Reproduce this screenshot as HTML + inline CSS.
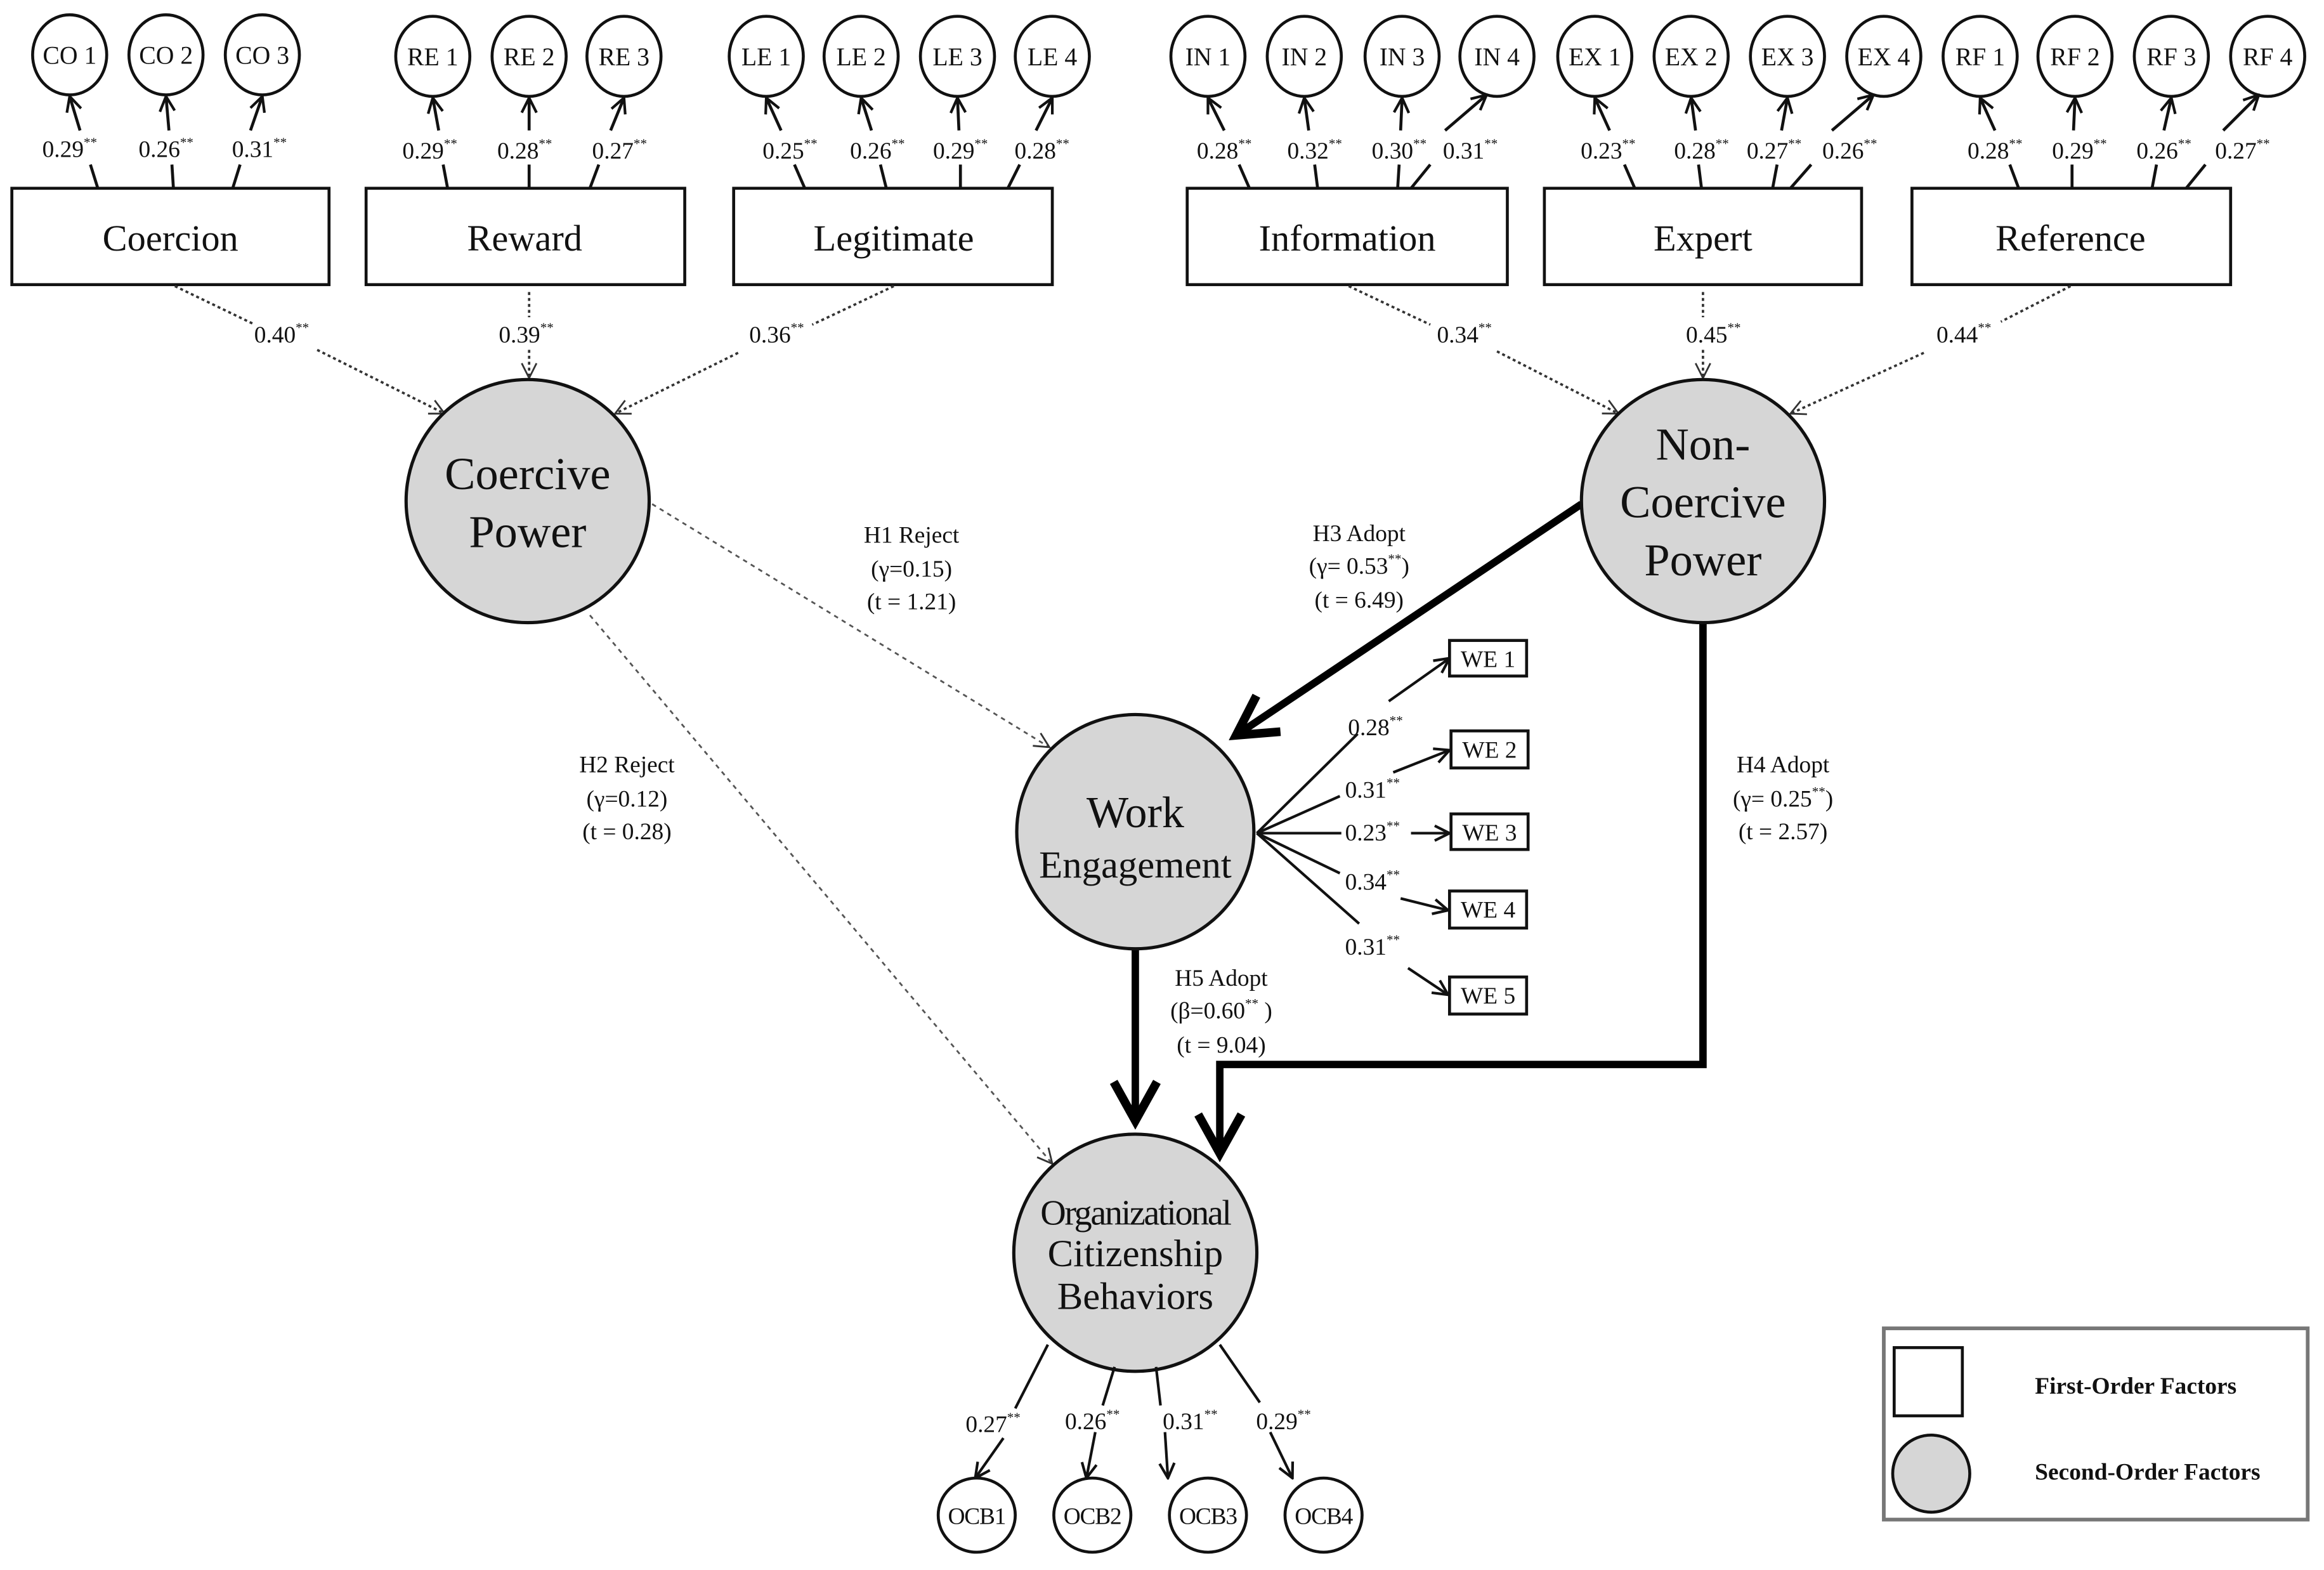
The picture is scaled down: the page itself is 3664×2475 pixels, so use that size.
<!DOCTYPE html>
<html><head><meta charset="utf-8"><style>
html,body{margin:0;padding:0;background:#fff;}
svg{display:block;}
text{font-family:"Liberation Serif",serif;fill:#111;}
</style></head><body>
<svg width="3664" height="2475" viewBox="0 0 1568 1059" preserveAspectRatio="none" xmlns="http://www.w3.org/2000/svg">
<defs>
<marker id="a" viewBox="0 0 12 12" refX="11" refY="6" markerWidth="12" markerHeight="12" markerUnits="userSpaceOnUse" orient="auto"><path d="M1,1 L11,6 L1,11" fill="none" stroke="#111" stroke-width="1.8"/></marker>
<marker id="ad" viewBox="0 0 12 12" refX="11" refY="6" markerWidth="12" markerHeight="12" markerUnits="userSpaceOnUse" orient="auto"><path d="M1,1 L11,6 L1,11" fill="none" stroke="#333" stroke-width="1.2"/></marker>
<marker id="ab" viewBox="0 0 12 12" refX="10" refY="6" markerWidth="7" markerHeight="7" orient="auto"><path d="M1,1 L10,6 L1,11" fill="none" stroke="#000" stroke-width="2"/></marker>
</defs>

<!-- Indicator circles row -->
<g fill="#fff" stroke="#111" stroke-width="2">
<ellipse cx="47" cy="37" rx="25" ry="27"/><ellipse cx="112" cy="37" rx="25" ry="27"/><ellipse cx="177" cy="37" rx="25" ry="27"/>
<ellipse cx="292" cy="38" rx="25" ry="27"/><ellipse cx="357" cy="38" rx="25" ry="27"/><ellipse cx="421" cy="38" rx="25" ry="27"/>
<ellipse cx="517" cy="38" rx="25" ry="27"/><ellipse cx="581" cy="38" rx="25" ry="27"/><ellipse cx="646" cy="38" rx="25" ry="27"/><ellipse cx="710" cy="38" rx="25" ry="27"/>
<ellipse cx="815" cy="38" rx="25" ry="27"/><ellipse cx="880" cy="38" rx="25" ry="27"/><ellipse cx="946" cy="38" rx="25" ry="27"/><ellipse cx="1010" cy="38" rx="25" ry="27"/>
<ellipse cx="1076" cy="38" rx="25" ry="27"/><ellipse cx="1141" cy="38" rx="25" ry="27"/><ellipse cx="1206" cy="38" rx="25" ry="27"/><ellipse cx="1271" cy="38" rx="25" ry="27"/>
<ellipse cx="1336" cy="38" rx="25" ry="27"/><ellipse cx="1400" cy="38" rx="25" ry="27"/><ellipse cx="1465" cy="38" rx="25" ry="27"/><ellipse cx="1530" cy="38" rx="25" ry="27"/>
</g>
<g font-size="17" text-anchor="middle">
<text x="47" y="43">CO 1</text><text x="112" y="43">CO 2</text><text x="177" y="43">CO 3</text>
<text x="292" y="44">RE 1</text><text x="357" y="44">RE 2</text><text x="421" y="44">RE 3</text>
<text x="517" y="44">LE 1</text><text x="581" y="44">LE 2</text><text x="646" y="44">LE 3</text><text x="710" y="44">LE 4</text>
<text x="815" y="44">IN 1</text><text x="880" y="44">IN 2</text><text x="946" y="44">IN 3</text><text x="1010" y="44">IN 4</text>
<text x="1076" y="44">EX 1</text><text x="1141" y="44">EX 2</text><text x="1206" y="44">EX 3</text><text x="1271" y="44">EX 4</text>
<text x="1336" y="44">RF 1</text><text x="1400" y="44">RF 2</text><text x="1465" y="44">RF 3</text><text x="1530" y="44">RF 4</text>
</g>

<!-- indicator connectors -->
<g stroke="#111" stroke-width="2" fill="none">
<line x1="66" y1="127" x2="61" y2="111"/><line x1="54" y1="88" x2="47" y2="65" marker-end="url(#a)"/>
<line x1="117" y1="127" x2="116" y2="111"/><line x1="114" y1="88" x2="112" y2="65" marker-end="url(#a)"/>
<line x1="157" y1="127" x2="162" y2="111"/><line x1="169" y1="88" x2="177" y2="65" marker-end="url(#a)"/>
<line x1="302" y1="127" x2="299" y2="111"/><line x1="296" y1="88" x2="292" y2="66" marker-end="url(#a)"/>
<line x1="357" y1="127" x2="357" y2="111"/><line x1="357" y1="88" x2="357" y2="66" marker-end="url(#a)"/>
<line x1="398" y1="127" x2="404" y2="111"/><line x1="412" y1="88" x2="421" y2="66" marker-end="url(#a)"/>
<line x1="543" y1="127" x2="536" y2="111"/><line x1="527" y1="88" x2="517" y2="66" marker-end="url(#a)"/>
<line x1="598" y1="127" x2="594" y2="111"/><line x1="588" y1="88" x2="581" y2="66" marker-end="url(#a)"/>
<line x1="648" y1="127" x2="648" y2="111"/><line x1="647" y1="88" x2="646" y2="66" marker-end="url(#a)"/>
<line x1="680" y1="127" x2="688" y2="111"/><line x1="699" y1="88" x2="710" y2="66" marker-end="url(#a)"/>
<line x1="843" y1="127" x2="836" y2="111"/><line x1="826" y1="88" x2="815" y2="66" marker-end="url(#a)"/>
<line x1="889" y1="127" x2="887" y2="111"/><line x1="883" y1="88" x2="880" y2="66" marker-end="url(#a)"/>
<line x1="943" y1="127" x2="944" y2="111"/><line x1="945" y1="88" x2="946" y2="66" marker-end="url(#a)"/>
<line x1="952" y1="127" x2="965" y2="111"/><line x1="975" y1="88" x2="1003" y2="64" marker-end="url(#a)"/>
<line x1="1103" y1="127" x2="1096" y2="111"/><line x1="1086" y1="88" x2="1076" y2="66" marker-end="url(#a)"/>
<line x1="1148" y1="127" x2="1146" y2="111"/><line x1="1144" y1="88" x2="1141" y2="66" marker-end="url(#a)"/>
<line x1="1196" y1="127" x2="1199" y2="111"/><line x1="1202" y1="88" x2="1206" y2="66" marker-end="url(#a)"/>
<line x1="1208" y1="127" x2="1222" y2="111"/><line x1="1236" y1="88" x2="1264" y2="64" marker-end="url(#a)"/>
<line x1="1362" y1="127" x2="1356" y2="111"/><line x1="1346" y1="88" x2="1336" y2="66" marker-end="url(#a)"/>
<line x1="1398" y1="127" x2="1398" y2="111"/><line x1="1399" y1="88" x2="1400" y2="66" marker-end="url(#a)"/>
<line x1="1452" y1="127" x2="1455" y2="111"/><line x1="1460" y1="88" x2="1465" y2="66" marker-end="url(#a)"/>
<line x1="1475" y1="127" x2="1488" y2="111"/><line x1="1500" y1="88" x2="1524" y2="64" marker-end="url(#a)"/>
</g>
<g font-size="16" text-anchor="middle">
<text x="47" y="106">0.29<tspan font-size="9" dy="-7">**</tspan></text>
<text x="112" y="106">0.26<tspan font-size="9" dy="-7">**</tspan></text>
<text x="175" y="106">0.31<tspan font-size="9" dy="-7">**</tspan></text>
<text x="290" y="107">0.29<tspan font-size="9" dy="-7">**</tspan></text>
<text x="354" y="107">0.28<tspan font-size="9" dy="-7">**</tspan></text>
<text x="418" y="107">0.27<tspan font-size="9" dy="-7">**</tspan></text>
<text x="533" y="107">0.25<tspan font-size="9" dy="-7">**</tspan></text>
<text x="592" y="107">0.26<tspan font-size="9" dy="-7">**</tspan></text>
<text x="648" y="107">0.29<tspan font-size="9" dy="-7">**</tspan></text>
<text x="703" y="107">0.28<tspan font-size="9" dy="-7">**</tspan></text>
<text x="826" y="107">0.28<tspan font-size="9" dy="-7">**</tspan></text>
<text x="887" y="107">0.32<tspan font-size="9" dy="-7">**</tspan></text>
<text x="944" y="107">0.30<tspan font-size="9" dy="-7">**</tspan></text>
<text x="992" y="107">0.31<tspan font-size="9" dy="-7">**</tspan></text>
<text x="1085" y="107">0.23<tspan font-size="9" dy="-7">**</tspan></text>
<text x="1148" y="107">0.28<tspan font-size="9" dy="-7">**</tspan></text>
<text x="1197" y="107">0.27<tspan font-size="9" dy="-7">**</tspan></text>
<text x="1248" y="107">0.26<tspan font-size="9" dy="-7">**</tspan></text>
<text x="1346" y="107">0.28<tspan font-size="9" dy="-7">**</tspan></text>
<text x="1403" y="107">0.29<tspan font-size="9" dy="-7">**</tspan></text>
<text x="1460" y="107">0.26<tspan font-size="9" dy="-7">**</tspan></text>
<text x="1513" y="107">0.27<tspan font-size="9" dy="-7">**</tspan></text>
</g>

<!-- first order boxes -->
<g fill="#fff" stroke="#111" stroke-width="2">
<rect x="8" y="127" width="214" height="65"/><rect x="247" y="127" width="215" height="65"/><rect x="495" y="127" width="215" height="65"/>
<rect x="801" y="127" width="216" height="65"/><rect x="1042" y="127" width="214" height="65"/><rect x="1290" y="127" width="215" height="65"/>
</g>
<g font-size="25" text-anchor="middle">
<text x="115" y="169">Coercion</text><text x="354" y="169">Reward</text><text x="603" y="169">Legitimate</text>
<text x="909" y="169">Information</text><text x="1149" y="169">Expert</text><text x="1397" y="169">Reference</text>
</g>

<!-- dotted second-order loadings -->
<g stroke="#333" stroke-width="1.6" stroke-dasharray="2,2" fill="none">
<line x1="118" y1="193" x2="172" y2="219"/><line x1="214" y1="236" x2="300" y2="279" marker-end="url(#ad)"/>
<line x1="357" y1="197" x2="357" y2="214"/><line x1="357" y1="236" x2="357" y2="255" marker-end="url(#ad)"/>
<line x1="603" y1="193" x2="548" y2="219"/><line x1="498" y1="238" x2="415" y2="279" marker-end="url(#ad)"/>
<line x1="910" y1="193" x2="965" y2="219"/><line x1="1010" y1="237" x2="1092" y2="279" marker-end="url(#ad)"/>
<line x1="1149" y1="197" x2="1149" y2="214"/><line x1="1149" y1="236" x2="1149" y2="255" marker-end="url(#ad)"/>
<line x1="1397" y1="193" x2="1350" y2="217"/><line x1="1298" y1="238" x2="1208" y2="279" marker-end="url(#ad)"/>
</g>
<g font-size="16" text-anchor="middle">
<text x="190" y="231">0.40<tspan font-size="9" dy="-7">**</tspan></text>
<text x="355" y="231">0.39<tspan font-size="9" dy="-7">**</tspan></text>
<text x="524" y="231">0.36<tspan font-size="9" dy="-7">**</tspan></text>
<text x="988" y="231">0.34<tspan font-size="9" dy="-7">**</tspan></text>
<text x="1156" y="231">0.45<tspan font-size="9" dy="-7">**</tspan></text>
<text x="1325" y="231">0.44<tspan font-size="9" dy="-7">**</tspan></text>
</g>

<!-- structural paths -->
<g stroke="#555" stroke-width="1.2" stroke-dasharray="3,3" fill="none">
<line x1="440" y1="340" x2="708" y2="504" marker-end="url(#ad)"/>
<line x1="398" y1="415" x2="710" y2="785" marker-end="url(#ad)"/>
</g>
<g stroke="#000" stroke-width="5" fill="none">
<line x1="1067" y1="340" x2="834" y2="496" marker-end="url(#ab)"/>
<polyline points="1149,420 1149,718 823,718 823,778" marker-end="url(#ab)"/>
<line x1="766" y1="640" x2="766" y2="756" marker-end="url(#ab)"/>
</g>

<!-- second-order circles -->
<g fill="#d6d6d6" stroke="#111" stroke-width="2.2">
<ellipse cx="356" cy="338" rx="82" ry="82"/>
<ellipse cx="1149" cy="338" rx="82" ry="82"/>
<ellipse cx="766" cy="561" rx="80" ry="79"/>
<ellipse cx="766" cy="845" rx="82" ry="80"/>
</g>
<g text-anchor="middle">
<text x="356" y="330" font-size="31">Coercive</text><text x="356" y="369" font-size="31">Power</text>
<text x="1149" y="310" font-size="31">Non-</text><text x="1149" y="349" font-size="31">Coercive</text><text x="1149" y="388" font-size="31">Power</text>
<text x="766" y="558" font-size="30">Work</text><text x="766" y="592" font-size="26">Engagement</text>
<text x="766" y="826" font-size="24" letter-spacing="-1">Organizational</text><text x="766" y="854" font-size="26">Citizenship</text><text x="766" y="883" font-size="26">Behaviors</text>
</g>

<!-- path labels -->
<g font-size="16" text-anchor="middle">
<text x="615" y="366">H1  Reject</text><text x="615" y="389">(γ=0.15)</text><text x="615" y="411">(t = 1.21)</text>
<text x="423" y="521">H2  Reject</text><text x="423" y="544">(γ=0.12)</text><text x="423" y="566">(t = 0.28)</text>
<text x="917" y="365">H3  Adopt</text><text x="917" y="387">(γ= 0.53<tspan font-size="9" dy="-7">**</tspan><tspan dy="7">)</tspan></text><text x="917" y="410">(t = 6.49)</text>
<text x="1203" y="521">H4  Adopt</text><text x="1203" y="544">(γ= 0.25<tspan font-size="9" dy="-7">**</tspan><tspan dy="7">)</tspan></text><text x="1203" y="566">(t = 2.57)</text>
<text x="824" y="665">H5  Adopt</text><text x="824" y="687">(β=0.60<tspan font-size="9" dy="-7">**</tspan><tspan dy="7"> )</tspan></text><text x="824" y="710">(t = 9.04)</text>
</g>

<!-- WE indicators -->
<g stroke="#111" stroke-width="1.8" fill="none">
<line x1="848" y1="562" x2="916" y2="495"/><line x1="937" y1="473" x2="978" y2="444" marker-end="url(#a)"/>
<line x1="848" y1="562" x2="904" y2="537"/><line x1="940" y1="521" x2="978" y2="506" marker-end="url(#a)"/>
<line x1="848" y1="562" x2="905" y2="562"/><line x1="952" y1="562" x2="978" y2="562" marker-end="url(#a)"/>
<line x1="848" y1="562" x2="904" y2="589"/><line x1="945" y1="606" x2="977" y2="614" marker-end="url(#a)"/>
<line x1="848" y1="562" x2="917" y2="623"/><line x1="950" y1="653" x2="977" y2="671" marker-end="url(#a)"/>
</g>
<g fill="#fff" stroke="#111" stroke-width="2">
<rect x="978" y="432" width="52" height="24"/><rect x="979" y="493" width="52" height="25"/><rect x="979" y="549" width="52" height="24"/>
<rect x="978" y="601" width="52" height="25"/><rect x="978" y="659" width="52" height="25"/>
</g>
<g font-size="16" text-anchor="middle">
<text x="1004" y="450">WE 1</text><text x="1005" y="511">WE 2</text><text x="1005" y="567">WE 3</text><text x="1004" y="619">WE 4</text><text x="1004" y="677">WE 5</text>
<text x="928" y="496">0.28<tspan font-size="9" dy="-7">**</tspan></text>
<text x="926" y="538">0.31<tspan font-size="9" dy="-7">**</tspan></text>
<text x="926" y="567">0.23<tspan font-size="9" dy="-7">**</tspan></text>
<text x="926" y="600">0.34<tspan font-size="9" dy="-7">**</tspan></text>
<text x="926" y="644">0.31<tspan font-size="9" dy="-7">**</tspan></text>
</g>

<!-- OCB indicators -->
<g stroke="#111" stroke-width="1.8" fill="none">
<line x1="707" y1="907" x2="685" y2="950"/><line x1="677" y1="970" x2="658" y2="997" marker-end="url(#a)"/>
<line x1="752" y1="922" x2="744" y2="948"/><line x1="739" y1="966" x2="733" y2="997" marker-end="url(#a)"/>
<line x1="780" y1="922" x2="783" y2="948"/><line x1="786" y1="966" x2="788" y2="997" marker-end="url(#a)"/>
<line x1="823" y1="907" x2="850" y2="946"/><line x1="857" y1="966" x2="872" y2="997" marker-end="url(#a)"/>
</g>
<g fill="#fff" stroke="#111" stroke-width="2">
<ellipse cx="659" cy="1022" rx="26" ry="25"/><ellipse cx="737" cy="1022" rx="26" ry="25"/><ellipse cx="815" cy="1022" rx="26" ry="25"/><ellipse cx="893" cy="1022" rx="26" ry="25"/>
</g>
<g font-size="16" text-anchor="middle">
<text x="659" y="1028" letter-spacing="-0.5">OCB1</text><text x="737" y="1028" letter-spacing="-0.5">OCB2</text><text x="815" y="1028" letter-spacing="-0.5">OCB3</text><text x="893" y="1028" letter-spacing="-0.5">OCB4</text>
<text x="670" y="966">0.27<tspan font-size="9" dy="-7">**</tspan></text>
<text x="737" y="964">0.26<tspan font-size="9" dy="-7">**</tspan></text>
<text x="803" y="964">0.31<tspan font-size="9" dy="-7">**</tspan></text>
<text x="866" y="964">0.29<tspan font-size="9" dy="-7">**</tspan></text>
</g>

<!-- legend -->
<rect x="1271" y="896" width="286" height="129" fill="#fff" stroke="#777" stroke-width="2.5"/>
<rect x="1278" y="909" width="46" height="46" fill="#fff" stroke="#111" stroke-width="2"/>
<ellipse cx="1303" cy="994" rx="26" ry="26" fill="#d6d6d6" stroke="#111" stroke-width="2"/>
<g font-size="16" font-weight="bold" text-anchor="middle">
<text x="1441" y="940">First-Order Factors</text>
<text x="1449" y="998">Second-Order Factors</text>
</g>
</svg>
</body></html>
